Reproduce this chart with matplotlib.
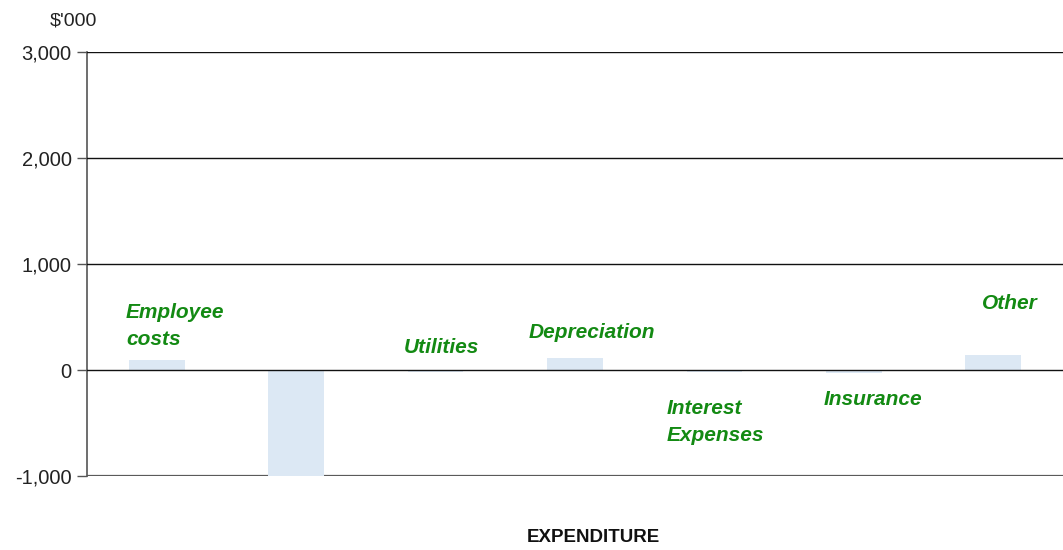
import matplotlib.pyplot as plt
import numpy as np

# data
categories = ["Employee\ncosts", "", "Utilities", "Depreciation",
              "Interest\nExpenses", "Insurance", "Other"]
values = [95, -1000, -22, 110, -22, -30, 140]
yticks = [-1000, 0, 1000, 2000, 3000]
ytick_labels = ["-1,000", "0", "1,000", "2,000", "3,000"]

# label placement (index offset, data y) for the green data labels
label_pos = [(-0.22, 415), None, (1.77, 208), (2.67, 358),
             (3.66, -490), (4.78, -274), (5.92, 623)]

plt.rcParams['font.family'] = ['Liberation Sans', 'DejaVu Sans']

fig = plt.figure(figsize=(10.63, 5.5), dpi=100)
ax = fig.add_axes([87 / 1063, 74 / 550, 976 / 1063, 424 / 550])

x = np.arange(len(categories))
ax.bar(x, values, width=0.4, color='#dce8f4', zorder=2)

# gridlines drawn over bars (as in the source), bottom line under bars
for t in yticks[1:]:
    ax.axhline(t, color='#111111', lw=1.0, zorder=3)
ax.axhline(yticks[0], color='#5a5a5a', lw=1.6, zorder=1)

ax.set_xlim(-0.5, len(categories) - 0.5)
ax.set_ylim(-1000, 3000)
ax.set_yticks(yticks)
ax.set_yticklabels(ytick_labels, fontsize=14.5, color='#222222')
ax.set_xticks([])
ax.tick_params(axis='y', length=7, width=1, color='#555555', pad=4)

for s in ['top', 'right', 'bottom']:
    ax.spines[s].set_visible(False)
ax.spines['left'].set_color('#555555')
ax.spines['left'].set_linewidth(1.2)

for name, pos in zip(categories, label_pos):
    if pos is None:
        continue
    ax.text(pos[0], pos[1], name, ha='left', va='center', color='#138a13',
            fontsize=15, fontweight='bold', fontstyle='italic',
            multialignment='left', linespacing=1.5, zorder=4)

fig.text(73 / 1063, 1 - 21 / 550, "$'000", ha='center', va='center',
         fontsize=14, color='#222222')
fig.text(593 / 1063, 1 - 537 / 550, "EXPENDITURE", ha='center', va='center',
         fontsize=13.5, fontweight='bold', color='#111111')

fig.savefig('out.png', dpi=100)
